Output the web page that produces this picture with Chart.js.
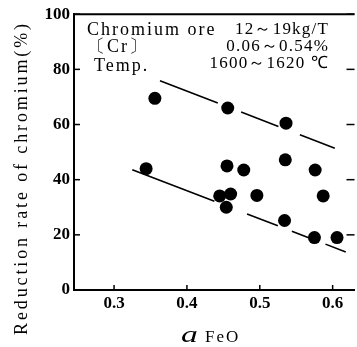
<!DOCTYPE html>
<html>
<head>
<meta charset="utf-8">
<script src="https://cdn.jsdelivr.net/npm/chart.js@4/dist/chart.umd.min.js"></script>
<style>
  html, body { margin: 0; padding: 0; background: #fff; overflow: hidden; }
  #wrap { width: 361px; height: 347px; }
</style>
</head>
<body>
<div id="wrap"><canvas id="c" width="361" height="347"></canvas></div>
<script>
// ---- data ----
const pointX = [0.356, 0.344, 0.456, 0.536, 0.455, 0.478, 0.535, 0.576, 0.445, 0.460, 0.454, 0.496, 0.587, 0.534, 0.575, 0.606];
const pointY = [69.5, 44.0, 66.0, 60.5, 45.0, 43.5, 47.2, 43.5, 34.1, 34.8, 30.0, 34.3, 34.1, 25.2, 19.0, 19.0];
const upperLineX = [0.363, 0.603];
const upperLineY = [75.9, 51.4];
const lowerLineX = [0.325, 0.618];
const lowerLineY = [43.6, 13.8];
const xTickValues = [0.3, 0.4, 0.5, 0.6];
const yTickValues = [0, 20, 40, 60, 80, 100];
const yTitle = 'Reduction rate of chromium(%)';
const xTitleSymbol = 'a';
const xTitleSub = 'FeO';
const noteLabels = ['Chromium ore', '〔Cr〕', 'Temp.'];
const noteValues = ['12～19kg/T', '0.06～0.54%', '1600～1620 ℃'];

const toXY = (xs, ys) => xs.map((v, i) => ({ x: v, y: ys[i] }));

const decor = {
  id: 'decor',
  afterDraw(chart) {
    const { ctx, chartArea: a, scales: { x, y } } = chart;
    ctx.save();
    ctx.strokeStyle = '#000';
    ctx.fillStyle = '#000';
    // frame top
    ctx.lineWidth = 2;
    ctx.beginPath(); ctx.moveTo(a.left - 1, a.top); ctx.lineTo(a.right, a.top); ctx.stroke();
    // inward ticks
    ctx.lineWidth = 1.5;
    yTickValues.forEach(v => {
      const py = y.getPixelForValue(v);
      ctx.beginPath(); ctx.moveTo(a.left, py); ctx.lineTo(a.left + 6, py); ctx.stroke();
      ctx.beginPath(); ctx.moveTo(a.right, py); ctx.lineTo(a.right - 8, py); ctx.stroke();
    });
    xTickValues.forEach(v => {
      const px = x.getPixelForValue(v);
      ctx.beginPath(); ctx.moveTo(px, a.bottom); ctx.lineTo(px, a.bottom - 5); ctx.stroke();
    });
    // y title (rotated, letter-spaced)
    ctx.font = '18px "Liberation Serif"';
    ctx.letterSpacing = '0px';
    const w0 = ctx.measureText(yTitle).width;
    const targetLen = 314;
    const sp = (targetLen - w0) / yTitle.length;
    ctx.letterSpacing = sp.toFixed(2) + 'px';
    ctx.save();
    ctx.translate(22, 178);
    ctx.rotate(-Math.PI / 2);
    ctx.textAlign = 'center';
    ctx.textBaseline = 'middle';
    ctx.fillText(yTitle, 0, 0);
    ctx.restore();
    // x title
    ctx.letterSpacing = '0px';
    ctx.textBaseline = 'alphabetic';
    ctx.textAlign = 'left';
    ctx.font = 'italic 24px "Liberation Serif"';
    ctx.save();
    ctx.translate(181, 342);
    ctx.scale(1.4, 1);
    ctx.fillText(xTitleSymbol, 0, 0);
    ctx.restore();
    ctx.font = '17px "Liberation Serif"';
    ctx.letterSpacing = '2px';
    ctx.fillText(xTitleSub, 205, 342);
    // note text
    ctx.font = '18px "Liberation Serif"';
    ctx.letterSpacing = '2px';
    const labX = [87, 87, 94];
    const baseY = [35, 52, 71];
    noteLabels.forEach((t, i) => ctx.fillText(t, labX[i], baseY[i]));
    ctx.textAlign = 'right';
    ctx.font = '17px "Liberation Serif"';
    ctx.letterSpacing = '1.2px';
    const valY = [34, 51, 68];
    noteValues.forEach((t, i) => ctx.fillText(t, 329, valY[i]));
    ctx.restore();
  }
};

new Chart(document.getElementById('c'), {
  type: 'scatter',
  data: {
    datasets: [
      {
        data: toXY(pointX, pointY),
        backgroundColor: '#000',
        borderColor: '#000',
        pointRadius: 6.5,
        pointHoverRadius: 6.5,
        borderWidth: 0
      },
      {
        type: 'line',
        data: toXY(upperLineX, upperLineY),
        borderColor: '#000',
        borderWidth: 1.6,
        borderDash: [62, 25, 40, 23, 50, 10],
        pointRadius: 0,
        fill: false
      },
      {
        type: 'line',
        data: toXY(lowerLineX, lowerLineY),
        borderColor: '#000',
        borderWidth: 1.6,
        borderDash: [88, 35, 33, 15, 18, 18, 40, 10],
        pointRadius: 0,
        fill: false
      }
    ]
  },
  options: {
    responsive: false,
    animation: false,
    devicePixelRatio: 1,
    layout: { padding: { top: 11, left: 0, right: 0, bottom: 0 } },
    plugins: { legend: { display: false }, tooltip: { enabled: false } },
    scales: {
      x: {
        type: 'linear',
        min: 0.245,
        max: 0.63,
        afterBuildTicks: s => { s.ticks = xTickValues.map(v => ({ value: v })); },
        afterFit: s => { s.height = 57; },
        grid: { display: false, drawTicks: false },
        border: { display: true, color: '#000', width: 2 },
        ticks: {
          color: '#000',
          padding: 3,
          font: { family: 'Liberation Serif', size: 17, weight: 'bold' },
          callback: v => v.toFixed(1)
        }
      },
      y: {
        type: 'linear',
        min: 0,
        max: 100,
        afterBuildTicks: s => { s.ticks = yTickValues.map(v => ({ value: v })); },
        afterFit: s => { s.width = 74; },
        grid: { display: false, drawTicks: false },
        border: { display: true, color: '#000', width: 2 },
        ticks: {
          color: '#000',
          padding: 4,
          font: { family: 'Liberation Serif', size: 17, weight: 'bold' }
        }
      }
    }
  },
  plugins: [decor]
});
</script>
</body>
</html>
